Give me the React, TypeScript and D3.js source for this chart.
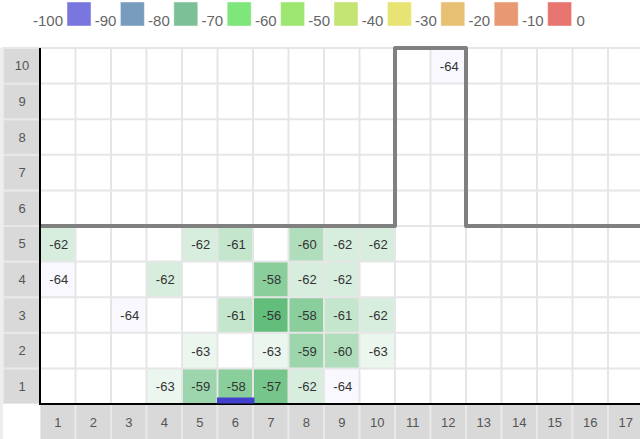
import React from "react";
import * as d3 from "d3";

const columns = d3.range(1, 18);
const rows = d3.range(1, 11);

const cellCols = [1, 5, 6, 8, 9, 10, 1, 4, 7, 8, 9, 3, 6, 7, 8, 9, 10, 5, 7, 8, 9, 10, 4, 5, 6, 7, 8, 9, 12];
const cellRows = [5, 5, 5, 5, 5, 5, 4, 4, 4, 4, 4, 3, 3, 3, 3, 3, 3, 2, 2, 2, 2, 2, 1, 1, 1, 1, 1, 1, 10];
const cellValues = [-62, -62, -61, -60, -62, -62, -64, -62, -58, -62, -62, -64, -61, -56, -58, -61, -62, -63, -63, -59, -60, -63, -63, -59, -58, -57, -62, -64, -64];

// threshold: upper row boundary per column
const thresholdRows = [5, 5, 5, 5, 5, 5, 5, 5, 5, 5, 10, 10, 5, 5, 5, 5, 5];

const markerCols = [6];
const markerRows = [1];

const legendLabels = ["-100", "-90", "-80", "-70", "-60", "-50", "-40", "-30", "-20", "-10", "0"];
const legendColors = ["#7a76e0", "#789cbe", "#7cc097", "#7ee67a", "#9de672", "#c4e473", "#e8e473", "#e8c073", "#e89873", "#e87470"];

export default function App() {
  const W = 640;
  const H = 439;
  const cell = 35.5;
  const x0 = 40;
  const yTop = 48;
  const yBottom = 404;

  const x = d3.scaleBand<number>().domain(columns).range([x0, x0 + columns.length * cell]).paddingInner(0);
  const y = d3.scaleBand<number>().domain([...rows].reverse()).range([yTop, yBottom]).paddingInner(0);
  const bw = x.bandwidth();
  const bh = y.bandwidth();

  const color = d3
    .scaleLinear<string>()
    .domain([-64, -63, -56])
    .range(["#f8f8fe", "#eaf6ee", "#63be7b"])
    .clamp(true);

  // threshold polyline
  const pts: [number, number][] = [];
  thresholdRows.forEach((r, i) => {
    const c = columns[i];
    const yy = y(r)!;
    const xl = x(c)!;
    const xr = xl + bw;
    if (pts.length === 0) pts.push([xl, yy]);
    else {
      const last = pts[pts.length - 1];
      if (last[1] !== yy) pts.push([xl, yy]);
    }
    pts.push([i === thresholdRows.length - 1 ? W : xr, yy]);
  });
  const line = d3.line<[number, number]>().x((d) => d[0]).y((d) => d[1]);

  const swX = (i: number) => 67 + i * 53.4;

  return (
    <svg width={W} height={H} style={{ position: "absolute", left: 0, top: 0, background: "#fff" }} fontFamily="'Liberation Sans', Arial, sans-serif">
      {/* legend */}
      {legendColors.map((c, i) => (
        <rect key={"sw" + i} x={swX(i)} y={2} width={24} height={24} fill={c} stroke="rgba(255,255,255,0.45)" strokeWidth={1} />
      ))}
      {legendLabels.map((l, i) => (
        <text
          key={"ll" + i}
          x={i < legendColors.length ? swX(i) - 4 : swX(legendColors.length - 1) + 29}
          y={26}
          textAnchor={i < legendColors.length ? "end" : "start"}
          fontSize={15}
          fill="#666"
        >
          {l}
        </text>
      ))}

      {/* row label column */}
      {rows.map((r) => (
        <rect key={"rl" + r} x={3} y={y(r)!} width={x0 - 3} height={bh} fill="#d9d9d9" stroke="#e8e8e8" strokeWidth={2} />
      ))}
      {columns.map((c) => (
        <rect key={"cl" + c} x={x(c)!} y={yBottom} width={bw} height={H - yBottom + 4} fill="#d9d9d9" stroke="#e8e8e8" strokeWidth={2} />
      ))}
      <rect x={3} y={yBottom} width={x0 - 3} height={H - yBottom + 4} fill="#fff" />
      <line x1={1.5} x2={1.5} y1={yTop} y2={H} stroke="#eeeeee" strokeWidth={3} />

      {/* cells */}
      {cellValues.map((v, i) => (
        <rect key={"c" + i} x={x(cellCols[i])!} y={y(cellRows[i])!} width={bw} height={bh} fill={color(v)} />
      ))}

      {/* grid */}
      {d3.range(columns.length + 1).map((k) => (
        <line key={"gv" + k} x1={x0 + k * cell} x2={x0 + k * cell} y1={yTop} y2={yBottom} stroke="#e6e6e6" strokeWidth={2} />
      ))}
      {d3.range(rows.length + 1).map((k) => (
        <line key={"gh" + k} x1={x0} x2={W} y1={yTop + k * bh} y2={yTop + k * bh} stroke="#e6e6e6" strokeWidth={2} />
      ))}

      {/* labels */}
      {rows.map((r) => (
        <text key={"rt" + r} x={22} y={y(r)! + bh / 2 + 4.5} textAnchor="middle" fontSize={13} fill="#555">
          {r}
        </text>
      ))}
      {columns.map((c) => (
        <text key={"ct" + c} x={x(c)! + bw / 2} y={yBottom + 23} textAnchor="middle" fontSize={13} fill="#555">
          {c}
        </text>
      ))}

      {/* threshold */}
      <path d={line(pts)!} fill="none" stroke="#808080" strokeWidth={4} strokeLinejoin="round" />

      {/* axes */}
      <line x1={x0} x2={x0} y1={yTop} y2={yBottom + 1} stroke="#000" strokeWidth={2} />
      <line x1={x0} x2={W} y1={yBottom} y2={yBottom} stroke="#000" strokeWidth={2} />

      {/* markers */}
      {markerCols.map((c, i) => (
        <rect key={"m" + i} x={x(c)! - 0.5} y={y(markerRows[i])! + bh - 6.5} width={bw + 2} height={6} fill="#4040cc" />
      ))}

      {/* values */}
      {cellValues.map((v, i) => (
        <text key={"t" + i} x={x(cellCols[i])! + bw / 2 + 1} y={y(cellRows[i])! + bh / 2 + 5} textAnchor="middle" fontSize={13} fill="#333">
          {v}
        </text>
      ))}
    </svg>
  );
}
